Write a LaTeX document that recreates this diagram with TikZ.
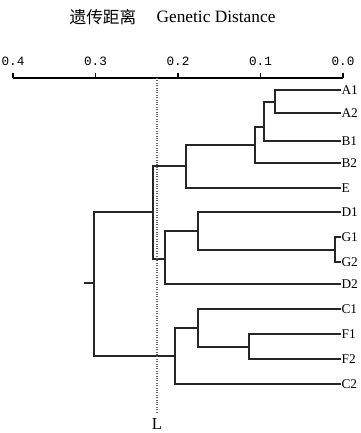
\documentclass[tikz,border=0pt]{standalone}
\usepackage{fontspec}
\setmainfont{Liberation Serif}
\setmonofont{Liberation Mono}
\newfontfamily\cjk{Noto Sans CJK SC}
\usetikzlibrary{positioning}

\begin{document}
\begin{tikzpicture}[x=0.75pt,y=-0.75pt]
        % Define styles for lines and labels
        \tikzset{
            branch/.style={line width=1.15pt, black!85, line cap=rect},
            leaf/.style={right, inner sep=1pt, font=\fontsize{10}{11}\selectfont},
            tick/.style={inner sep=1pt, font=\ttfamily\fontsize{9.5}{10}\selectfont},
            cutline/.style={densely dotted, black!60, line width=0.8pt}
        }
        \useasboundingbox (0,0) rectangle (361,433);

        % Title
        \node (titlecn) at (103,17) {\cjk\fontsize{12.5}{14}\selectfont 遗传距离};
        \node (titleen) at (216,17) {\fontsize{13}{14}\selectfont Genetic Distance};

        % Draw axis
        \coordinate (axl) at (13,78);
        \coordinate (axr) at (343,78);
        \draw[line width=1pt] (axl) -- (axr);
        \foreach \d [count=\i from 0] in {0.4,0.3,0.2,0.1,0.0} {
            \coordinate (tk\i) at (13+82.5*\i,78);
            \draw[line width=1pt] (tk\i) -- ++(0,-5);
            \node[tick] (lb\i) at (13+82.5*\i,61) {\d};
        }

        % Leaves
        \foreach \name/\y in {A1/90,A2/113,B1/141,B2/163,E/188,D1/212,G1/237,G2/262,D2/284,C1/309,F1/334,F2/359,C2/384} {
            \coordinate (\name) at (340,\y);
            \node[leaf] (lab\name) at (\name) {\name};
        }

        % Inner nodes
        \coordinate (nA) at (275,102);
        \coordinate (nAB1) at (264,127);
        \coordinate (nAB) at (255,145);
        \coordinate (nABE) at (186,166);
        \coordinate (nG) at (335,250);
        \coordinate (nDG) at (198,231);
        \coordinate (nDGD) at (165,259);
        \coordinate (nUp) at (153,212);
        \coordinate (nF) at (249,347);
        \coordinate (nCF) at (198,328);
        \coordinate (nLow) at (175,356);
        \coordinate (root) at (94,283);
        \coordinate (stub) at (85,283);

        % Draw branches
        \foreach \p/\c in {nA/A1,nA/A2,nAB1/nA,nAB1/B1,nAB/nAB1,nAB/B2,nABE/nAB,nABE/E,
                          nG/G1,nG/G2,nDG/D1,nDG/nG,nDGD/nDG,nDGD/D2,nUp/nABE,nUp/nDGD,
                          nF/F1,nF/F2,nCF/C1,nCF/nF,nLow/nCF,nLow/C2} {
            \draw[branch] (\p) |- (\c);
        }
        \draw[branch] (root) |- (nUp);
        \draw[branch] (root) |- (nLow);
        \draw[branch] (stub) -- (root);

        % Cut line
        \coordinate (cuttop) at (157,78);
        \coordinate (cutbot) at (157,413);
        \draw[cutline] (cuttop) -- (cutbot);
        \node[font=\fontsize{12.5}{14}\selectfont] (cutlab) at (157,424) {L};
\end{tikzpicture}
\end{document}
